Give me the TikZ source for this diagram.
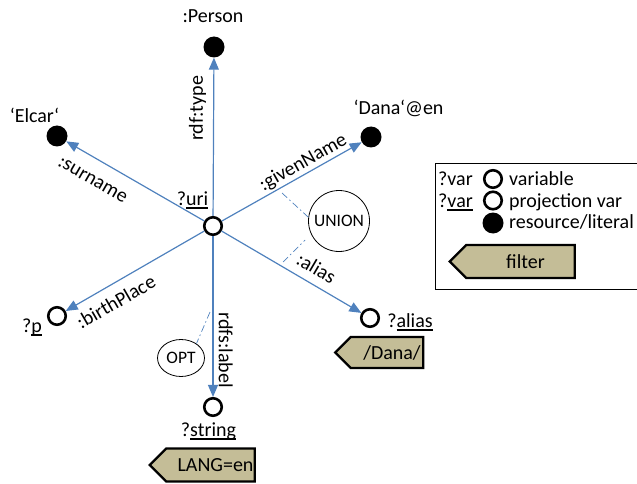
\documentclass[tikz,border=0pt]{standalone}
\usepackage{fontspec}
\setmainfont{Carlito}
\usetikzlibrary{arrows.meta,shapes.geometric,shapes.symbols}
\definecolor{edgeblue}{HTML}{4F81BD}
\definecolor{filtertan}{HTML}{C4BD97}
% underline at a fixed distance below the baseline
\newcommand\ulx[1]{\setbox0\hbox{#1}\rlap{\rule[-4pt]{\wd0}{1.8pt}}\box0}
% filter text, centred on the flat body rather than on the whole tag
\newcommand\ftext[1]{\hspace{10pt}#1}
\begin{document}
\begin{tikzpicture}[x=1pt,y=-1pt,
  every node/.style={font=\fontsize{20}{24}\selectfont},
  varnode/.style={circle,draw,line width=2.6pt,fill=white,minimum size=17.5pt,inner sep=0pt},
  resnode/.style={circle,fill=black,minimum size=21pt,inner sep=0pt},
  rel/.style={draw=edgeblue,line width=1.2pt,-{Triangle[length=12pt,width=10pt]}},
  elabel/.style={inner sep=0pt},
  groupnode/.style={draw,line width=0.8pt,inner sep=0pt,font=\fontsize{17.5}{20}\selectfont},
  scopeline/.style={draw=edgeblue,line width=0.7pt,dash pattern=on 7pt off 3pt on 1.5pt off 3pt},
  filterbox/.style={signal,signal to=west,signal from=nowhere,draw,line width=2.4pt,fill=filtertan,inner sep=0pt}
]
\useasboundingbox (0,0) rectangle (637,484);

% graph nodes
\node[resnode] (person) at (214,47) {};
\node[resnode] (elcar) at (57,136) {};
\node[resnode] (dana) at (371,137) {};
\node[varnode] (p) at (57,316) {};
\node[varnode] (alias) at (370,318) {};
\node[varnode] (string) at (213,407) {};
\node[varnode] (uri) at (213,226) {};

% node texts
\node[anchor=base] (personlbl) at (213,23) {:Person};
\node[anchor=base] (elcarlbl) at (34.5,123) {‘Elcar‘};
\node[anchor=base] (danalbl) at (398.5,115) {‘Dana‘@en};
\node[anchor=base] (urilbl) at (192.5,205) {?\ulx{uri}};
\node[anchor=base] (plbl) at (32,332) {?\ulx{p}};
\node[anchor=base] (aliaslbl) at (410,327) {?\ulx{alias}};
\node[anchor=base] (stringlbl) at (208.5,436) {?\ulx{string}};

% properties
\draw[rel] (uri) -- node[elabel,pos=0.68,rotate=90,above=7pt] {rdf:type} (person);
\draw[rel] (uri) -- node[elabel,pos=0.735,rotate=-30,below=15pt] {:surname} (elcar);
\draw[rel] (uri) -- node[elabel,pos=0.62,rotate=29.4,above=1.5pt] {:givenName} (dana);
\draw[rel] (uri) -- node[elabel,pos=0.62,rotate=-30.4,above=8.5pt] {:alias} (alias);
\draw[rel] (uri) -- node[elabel,pos=0.70,rotate=30,below=9.5pt] {:birthPlace} (p);
\draw[rel] (uri) -- node[elabel,pos=0.71,rotate=-90,above=5pt] {rdfs:label} (string);

% UNION and OPTIONAL groups
\node[groupnode,circle,minimum size=61pt] (union) at (339,221) {UNION};
\node[groupnode,ellipse,minimum width=47pt,minimum height=37pt] (opt) at (181,358) {OPT};
\coordinate (u1) at (282,193);
\coordinate (u2) at (283,262);
\coordinate (u3) at (305,240);
\coordinate (o1) at (210,312);
\draw[scopeline] (u1) -- (union.173);
\draw[scopeline] (u2) -- (u3);
\draw[scopeline] (o1) -- (opt.43);

% filters
\node[filterbox,minimum width=88pt,minimum height=31pt] (aliasfilter) at (387,352.5) {\ftext{/Dana/}};
\node[filterbox,minimum width=105pt,minimum height=33pt] (langfilter) at (210.5,465) {\ftext{LANG=en}};

% legend
\node[draw,line width=0.8pt,anchor=north west,minimum width=240pt,minimum height=126pt] (legend) at (435,163) {};
\node[anchor=base] (lgvar) at (455.5,185) {?var};
\node[anchor=base] (lgpvar) at (455.5,207) {?\ulx{var}};
\node[varnode] (lgc1) at (493,179) {};
\node[varnode] (lgc2) at (493,200.5) {};
\node[resnode] (lgc3) at (493,223) {};
\node[anchor=base west,inner sep=0pt] (lgt1) at (509,185) {variable};
\node[anchor=base west,inner sep=0pt] (lgt2) at (509,207) {projection var};
\node[anchor=base west,inner sep=0pt] (lgt3) at (509,228) {resource/literal};
\node[filterbox,minimum width=125pt,minimum height=33pt] (lgfilter) at (520.5,261.5) {\ftext{filter}};
\end{tikzpicture}
\end{document}
